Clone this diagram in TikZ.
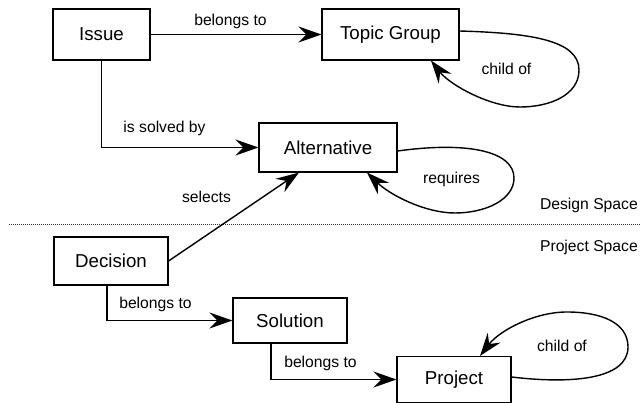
\documentclass[tikz,border=0pt]{standalone}
\usepackage{fontspec}
\setmainfont{Liberation Sans}
\usetikzlibrary{arrows.meta,calc}
\begin{document}
\begin{tikzpicture}[x=1pt,y=-1pt,
  box/.style={draw, line width=1.1pt, inner sep=0pt, font=\fontsize{18.7}{20}\selectfont},
  lbl/.style={inner sep=0pt, font=\fontsize{15.7}{17}\selectfont},
  conn/.style={line width=1.4pt, -{Stealth[length=23pt,width=16pt,inset=8pt]}}]
\useasboundingbox (0,0) rectangle (640,403);
% nodes
\node[box, minimum width=97pt, minimum height=51pt] (iss) at (101.5,34.5) {Issue};
\node[box, minimum width=137pt, minimum height=51pt] (tg) at (390.5,34.5) {Topic Group};
\node[box, minimum width=138pt, minimum height=49pt] (alt) at (328,147.5) {Alternative};
\node[box, minimum width=114pt, minimum height=48pt] (dec) at (111,261) {Decision};
\node[box, minimum width=114pt, minimum height=45pt] (sol) at (290,320.5) {Solution};
\node[box, minimum width=114pt, minimum height=46pt] (proj) at (454,379.5) {Project};
% separator
\coordinate (sepL) at (9,224);
\coordinate (sepR) at (640,224);
\draw[line width=0.9pt, dash pattern=on 1pt off 1pt, black!80] (sepL) -- (sepR);
% connectors
\draw[conn] (iss.east) -- (tg.west);
\draw[conn] (iss.south) |- (alt.west);
\draw[conn] (dec.east) -- ([xshift=-29pt]alt.south);
\draw[conn] ([xshift=-4pt]dec.south) |- (sol.west);
\draw[conn] ([xshift=-19pt]sol.south) |- (proj.west);
\draw[conn] ([yshift=3.5pt]tg.east) .. controls (530,33) and (579,40) .. (579,70)
  .. controls (579,95) and (550,107) .. (520,107)
  .. controls (490,107) and (450,85) .. ([xshift=40.5pt]tg.south);
\draw[conn] ([yshift=-3.5pt]alt.east) .. controls (470,141) and (514,152) .. (514,178)
  .. controls (514,200) and (485,213) .. (455,213)
  .. controls (425,213) and (390,195) .. ([xshift=39pt]alt.south);
\draw[conn] ([yshift=2.5pt]proj.east) .. controls (570,384) and (628,380) .. (628,347)
  .. controls (628,322) and (600,312) .. (567,312)
  .. controls (535,312) and (500,330) .. ([xshift=26pt]proj.north);
% labels
\node[lbl] (l1) at (230.5,21) {belongs to};
\node[lbl] (l2) at (164.5,128) {is solved by};
\node[lbl] (l3) at (506.5,69) {child of};
\node[lbl] (l4) at (451.5,179) {requires};
\node[lbl] (l5) at (206.5,197) {selects};
\node[lbl, anchor=east] (l6) at (638,205) {Design Space};
\node[lbl, anchor=east] (l7) at (638,247) {Project Space};
\node[lbl] (l8) at (155.5,304) {belongs to};
\node[lbl] (l9) at (320.5,363) {belongs to};
\node[lbl] (l10) at (562,346) {child of};
\end{tikzpicture}
\end{document}
